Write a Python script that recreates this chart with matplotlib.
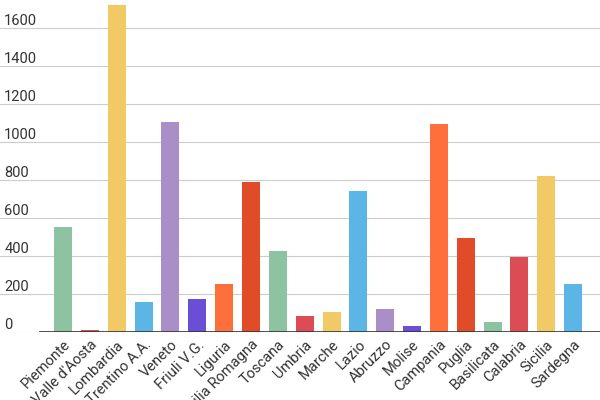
import matplotlib.pyplot as plt

plt.rcParams['font.family'] = ['Roboto', 'DejaVu Sans']

regioni = ["Piemonte", "Valle d'Aosta", "Lombardia", "Trentino A.A.", "Veneto", "Friuli V.G.",
           "Liguria", "Emilia Romagna", "Toscana", "Umbria", "Marche", "Lazio", "Abruzzo",
           "Molise", "Campania", "Puglia", "Basilicata", "Calabria", "Sicilia", "Sardegna"]
valori = [553, 10, 1720, 158, 1105, 174, 253, 790, 426, 84, 105, 742, 121, 32, 1095, 495, 53, 395, 820, 253]

palette = ['#8dc3a0', '#dc4c55', '#f2ca65', '#5bb5e5', '#aa8ec8', '#6a4fd6', '#ff6f3c', '#e04c28']
colori = [palette[i % 8] for i in range(len(valori))]

fig, ax = plt.subplots(figsize=(6, 4), dpi=100)
fig.subplots_adjust(left=0.0, right=1.0, top=1.0, bottom=0.17)

x = range(len(valori))
ax.bar(x, valori, width=0.67, color=colori, zorder=3)

ax.set_ylim(0, 1747)
ax.set_xlim(-2.35, len(valori))
ax.set_yticks(range(0, 1601, 200))
ax.set_yticklabels(['0'] + [str(v) for v in range(200, 1601, 200)])
ax.tick_params(axis='y', direction='in', pad=-3, length=0, labelsize=10.5, labelcolor='#333333')
for lab in ax.get_yticklabels():
    lab.set_horizontalalignment('left')
    lab.set_verticalalignment('bottom')
ax.yaxis.grid(True, color='#cccccc', linewidth=0.8, zorder=0)

ax.set_xticks(list(x))
ax.set_xticklabels(regioni, rotation=45, ha='right', rotation_mode='anchor', fontsize=10.5, color='#333333')
ax.tick_params(axis='x', length=0, pad=4)

for s in ['top', 'right', 'left', 'bottom']:
    ax.spines[s].set_visible(False)
ax.axhline(0, xmin=40 / 600, xmax=1, color='#333333', linewidth=1.2, zorder=4)

plt.savefig('out.png', dpi=100)
